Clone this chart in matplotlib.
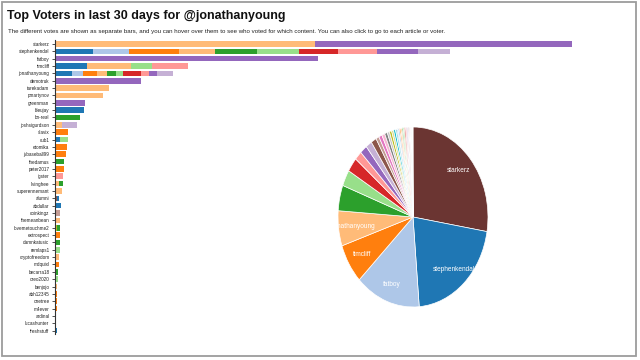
import matplotlib
matplotlib.use("Agg")
import matplotlib.pyplot as plt
from matplotlib import font_manager
from matplotlib.patches import Rectangle, Ellipse
import numpy as np

names = {f.name for f in font_manager.fontManager.ttflist}
NARROW = "Liberation Sans Narrow" if "Liberation Sans Narrow" in names else "Liberation Sans"

voters = ["starkerz", "stephenkendal", "fatboy", "timcliff", "jonathanyoung", "demotruk",
          "tarekadam", "pmartynov", "greenman", "bleujay", "bn-real", "joshsigurdson",
          "slavix", "cub1", "etomika", "jvbaseball99", "thedamus", "peter2017", "igster",
          "livinghee", "superennemant", "alumni", "abdullar", "coinkingz", "themeanbean",
          "lovemetouchme2", "extrospect", "damnkatusic", "remlaps1", "cryptofreedom",
          "mdquixl", "becarra18", "oreo2020", "benjojo", "abh12345", "onetree", "m4ever",
          "ardinal", "lucashunter", "freshstuff"]

# per voter: content index (colour) of each vote segment, and vote weight of each segment
segment_content = [
    [3, 8], [0, 1, 2, 3, 4, 5, 6, 7, 8, 9], [8], [0, 3, 5, 7], [0, 1, 2, 3, 4, 5, 6, 7, 8, 9],
    [8], [3], [3], [8], [0], [4], [3, 9], [2], [0, 5], [2], [2], [4], [2], [7],
    [3, 4], [3], [10, 0], [0], [11], [3], [16, 4], [2], [4], [0, 5], [3],
    [2], [4], [5], [3], [2], [2], [2], [9], [2], [0]]
segment_votes = [
    [260, 257], [38, 36, 50, 36, 42, 42, 39, 39, 41, 32], [263], [32, 44, 21, 36],
    [17, 11, 14, 10, 9, 7, 18, 8, 8, 16],
    [86], [54], [48], [30], [29], [25], [7, 15], [13], [5, 8], [12], [11], [9], [9], [8],
    [4, 4], [7], [2, 1.5], [6], [5], [5], [2, 2.5], [5], [5], [1, 3.5], [4],
    [4], [3], [3], [2], [2], [2], [1.5], [1], [1], [1.5]]

palette = ["#1f77b4", "#aec7e8", "#ff7f0e", "#ffbb78", "#2ca02c", "#98df8a", "#d62728",
           "#ff9896", "#9467bd", "#c5b0d5", "#8c564b", "#c49c94", "#e377c2", "#f7b6d2",
           "#7f7f7f", "#c7c7c7", "#bcbd22", "#dbdb8d", "#17becf", "#9edae5"]
first_slice_color = "#6b3532"
pie_labels_shown = 5

W, H = 640, 360
fig = plt.figure(figsize=(6.4, 3.6), dpi=100)
fig.patch.set_facecolor("white")

def fx(px):
    return px / W

def fy(py):
    return 1 - py / H

# frame of the screenshot
fig.add_artist(Rectangle((fx(2), fy(356)), fx(634), 354 / H, transform=fig.transFigure,
                         fill=False, edgecolor="#9c9c9c", linewidth=1.3))

fig.text(fx(7), fy(16), "Top Voters in last 30 days for @jonathanyoung", fontsize=9.0,
         fontweight="bold", family=NARROW, va="center", ha="left", color="#111111")
fig.text(fx(8), fy(31), "The different votes are shown as separate bars, and you can hover over them "
         "to see who voted for which content. You can also click to go to each article or voter.",
         fontsize=4.45, family=NARROW, va="center", ha="left", color="#222222")

# bar chart
ax = fig.add_axes([fx(55), fy(334.3), fx(520), 294 / H])
n = len(voters)
ypos = np.arange(n)
for i in range(n):
    left = 0
    for c, v in zip(segment_content[i], segment_votes[i]):
        ax.barh(ypos[i], v, left=left, height=0.76, color=palette[c], linewidth=0)
        left += v
ax.set_xlim(0, 520)
ax.set_ylim(n - 0.5, -0.5)
ax.set_yticks(ypos)
ax.set_yticklabels(voters, family=NARROW, fontsize=3.3, color="#222222")
ax.tick_params(axis="y", length=2.5, width=0.6, pad=1.5, color="#333333")
ax.set_xticks([])
for s in ["top", "right", "bottom"]:
    ax.spines[s].set_visible(False)
ax.spines["left"].set_linewidth(0.8)
ax.spines["left"].set_color("#333333")
ax.patch.set_alpha(0)

# pie chart
totals = [sum(v) for v in segment_votes]
pie_colors = [first_slice_color] + [palette[i % 20] for i in range(n - 1)]
pax = fig.add_axes([fx(338), fy(307), fx(150), 180 / H])
wedges, _ = pax.pie(totals, colors=pie_colors, startangle=90, counterclock=False,
                    radius=1.0, wedgeprops=dict(edgecolor="white", linewidth=0.5))
pax.set_aspect("auto")
pax.set_xlim(-1, 1)
pax.set_ylim(-1, 1)
pax.axis("off")
clip = Ellipse((0, 0), 2, 2, transform=pax.transData)
tot = sum(totals)
ang = 90.0
for i in range(n):
    span = 360.0 * totals[i] / tot
    mid = np.deg2rad(ang - span / 2)
    ang -= span
    if i < pie_labels_shown:
        t = pax.text(0.8 * np.cos(mid), 0.8 * np.sin(mid), voters[i], ha="center",
                     va="center", color="white", fontsize=4.7, family=NARROW)
        t.set_clip_path(clip)

fig.savefig("out.png", dpi=100)
